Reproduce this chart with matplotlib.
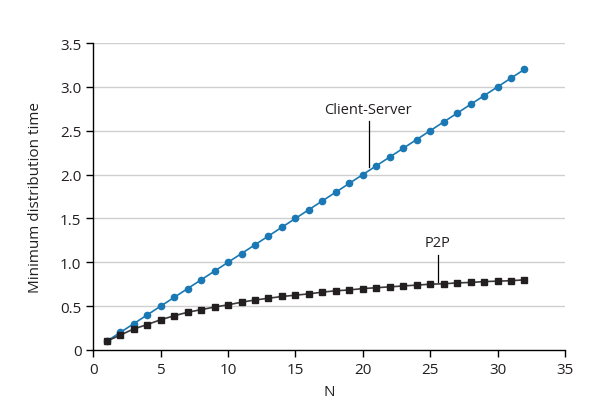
import matplotlib
matplotlib.use("Agg")
import matplotlib.pyplot as plt

# number of peers
n_peers = list(range(1, 33))

# minimum distribution time
client_server = [0.1, 0.2, 0.3, 0.4, 0.5, 0.6, 0.7, 0.8, 0.9, 1.0,
                 1.1, 1.2, 1.3, 1.4, 1.5, 1.6, 1.7, 1.8, 1.9, 2.0,
                 2.1, 2.2, 2.3, 2.4, 2.5, 2.6, 2.7, 2.8, 2.9, 3.0,
                 3.1, 3.2]
p2p = [0.1, 0.17, 0.24, 0.29, 0.345, 0.39, 0.43, 0.46, 0.49, 0.515,
       0.545, 0.57, 0.59, 0.61, 0.625, 0.64, 0.66, 0.675, 0.685, 0.70,
       0.71, 0.72, 0.73, 0.74, 0.75, 0.755, 0.765, 0.77, 0.78, 0.785,
       0.79, 0.80]

x_ticks = [0, 5, 10, 15, 20, 25, 30, 35]
y_ticks = [0, 0.5, 1.0, 1.5, 2.0, 2.5, 3.0, 3.5]
y_tick_labels = ["0", "0.5", "1.0", "1.5", "2.0", "2.5", "3.0", "3.5"]

plt.rcParams["font.family"] = ["Open Sans", "DejaVu Sans"]
text_color = "#231f20"
blue = "#1a78b4"

fig = plt.figure(figsize=(6.12, 4.06), dpi=100)
ax = fig.add_axes([0.1525, 0.1355, 0.7705, 0.756])

for y in y_ticks[1:]:
    ax.axhline(y, color="#cfcfcf", lw=1.0, zorder=0)

ax.plot(n_peers, client_server, color=blue, lw=1.2, marker="o",
        markersize=4.5, markerfacecolor=blue, markeredgecolor=blue, zorder=3)
ax.plot(n_peers, p2p, color="#3a3a3a", lw=1.2, marker="s",
        markersize=5, markerfacecolor="#231f20", markeredgecolor="#231f20", zorder=3)

# labels with leader lines
ax.text(20.4, 2.74, "Client-Server", ha="center", va="center", fontsize=10.5, color=text_color)
ax.plot([20.45, 20.45], [2.61, 2.09], color="black", lw=0.9, zorder=4)
ax.text(25.55, 1.23, "P2P", ha="center", va="center", fontsize=10.5, color=text_color)
ax.plot([25.6, 25.6], [1.08, 0.775], color="black", lw=0.9, zorder=4)

ax.set_xlim(0, 35)
ax.set_ylim(0, 3.5)
ax.set_xticks(x_ticks)
ax.set_yticks(y_ticks)
ax.set_yticklabels(y_tick_labels)
ax.tick_params(direction="out", length=5, width=1, colors="black",
               labelsize=11, labelcolor=text_color)

for side in ["top", "right"]:
    ax.spines[side].set_visible(False)
for side in ["left", "bottom"]:
    ax.spines[side].set_linewidth(1.0)

ax.set_xlabel("N", fontsize=11, color=text_color, labelpad=5)
ax.set_ylabel("Minimum distribution time", fontsize=11, color=text_color, labelpad=12)

fig.savefig("out.png", dpi=100)
